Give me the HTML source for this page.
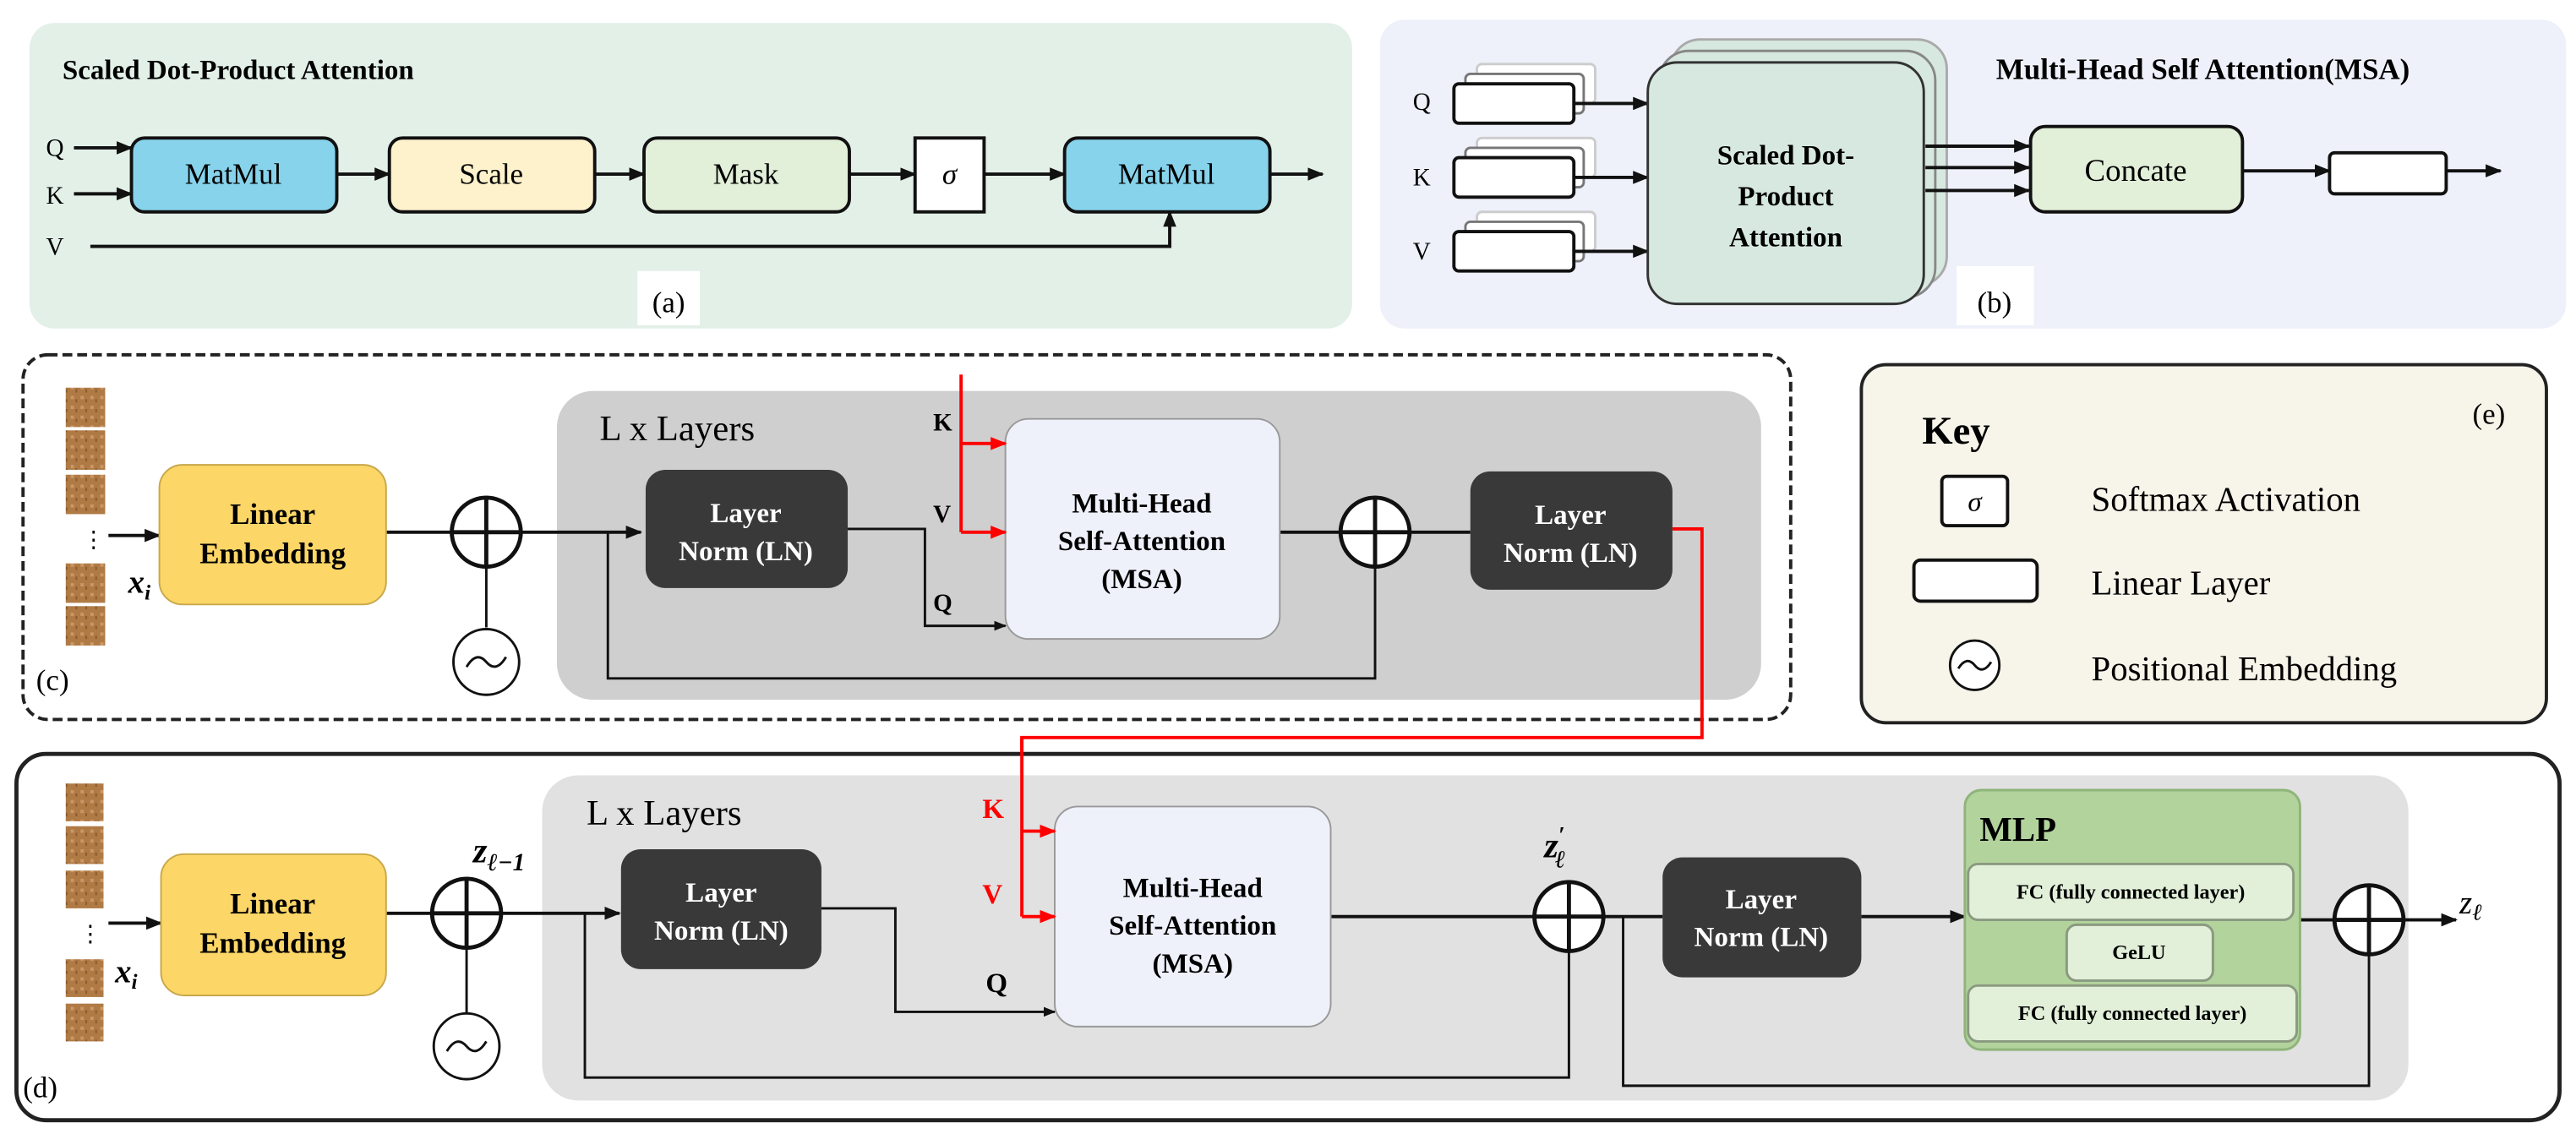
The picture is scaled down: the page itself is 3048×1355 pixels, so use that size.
<!DOCTYPE html>
<html><head><meta charset="utf-8"><style>
html,body{margin:0;padding:0;background:#fff;}
svg, svg text{font-family:"Liberation Serif",serif;}
</style></head><body>
<svg width="3048" height="1350" viewBox="0 0 1568 694.5" xmlns="http://www.w3.org/2000/svg" font-family="Liberation Serif, serif">
<defs>
<marker id="a" viewBox="0 0 10 10" refX="9" refY="5" markerWidth="5" markerHeight="5" orient="auto"><path d="M0,1 L10,5 L0,9 z" fill="#111"/></marker>
<marker id="r" viewBox="0 0 10 10" refX="9" refY="5" markerWidth="5" markerHeight="5" orient="auto"><path d="M0,1 L10,5 L0,9 z" fill="#f00"/></marker>
<pattern id="tex" width="6" height="6" patternUnits="userSpaceOnUse"><rect width="6" height="6" fill="#b07a45"/><rect x="1" y="1" width="2" height="2" fill="#c99866"/><rect x="4" y="3" width="1" height="2" fill="#8a5a2e"/></pattern>
</defs>
<g font-family="Liberation Serif, serif">
<!-- (a) -->
<rect x="18" y="14" width="805" height="186" rx="15" fill="#e2f0e8"/>
<text x="38" y="48" font-size="17" font-weight="bold">Scaled Dot-Product Attention</text>
<g font-size="15">
<text x="28" y="95">Q</text><text x="28" y="124">K</text><text x="28" y="155">V</text>
</g>
<g stroke="#111" stroke-width="2" fill="none">
<line x1="45" y1="90" x2="80" y2="90" marker-end="url(#a)"/>
<line x1="45" y1="118" x2="80" y2="118" marker-end="url(#a)"/>
<line x1="205" y1="106" x2="237" y2="106" marker-end="url(#a)"/>
<line x1="362" y1="106" x2="392" y2="106" marker-end="url(#a)"/>
<line x1="517" y1="106" x2="557" y2="106" marker-end="url(#a)"/>
<line x1="599" y1="106" x2="648" y2="106" marker-end="url(#a)"/>
<line x1="773" y1="106" x2="805" y2="106" marker-end="url(#a)"/>
<polyline points="55,150 712,150 712,129" marker-end="url(#a)"/>
</g>
<g stroke="#111" stroke-width="2">
<rect x="80" y="84" width="125" height="45" rx="8" fill="#87d3ec"/>
<rect x="237" y="84" width="125" height="45" rx="8" fill="#fef2cd"/>
<rect x="392" y="84" width="125" height="45" rx="8" fill="#e2efd9"/>
<rect x="557" y="84" width="42" height="45" fill="#fff"/>
<rect x="648" y="84" width="125" height="45" rx="8" fill="#87d3ec"/>
</g>
<g font-size="18" text-anchor="middle">
<text x="142" y="112">MatMul</text><text x="299" y="112">Scale</text><text x="454" y="112">Mask</text>
<text x="578" y="112" font-style="italic">σ</text><text x="710" y="112">MatMul</text>
</g>
<rect x="388" y="165" width="38" height="33" fill="#fff"/>
<text x="407" y="190" font-size="18" text-anchor="middle">(a)</text>

<!-- (b) -->
<rect x="840" y="12" width="722" height="188" rx="15" fill="#eef1fa"/>
<text x="1215" y="48" font-size="18" font-weight="bold">Multi-Head Self Attention(MSA)</text>
<g font-size="15"><text x="860" y="67">Q</text><text x="860" y="113">K</text><text x="860" y="158">V</text></g>
<g stroke="#555" stroke-width="1.5" fill="#fff">
<rect x="899" y="39" width="72" height="24" rx="3" stroke="#ccc"/><rect x="892" y="45" width="72" height="24" rx="3" stroke="#777"/>
<rect x="899" y="84" width="72" height="24" rx="3" stroke="#ccc"/><rect x="892" y="90" width="72" height="24" rx="3" stroke="#777"/>
<rect x="899" y="129" width="72" height="24" rx="3" stroke="#ccc"/><rect x="892" y="135" width="72" height="24" rx="3" stroke="#777"/>
</g>
<g stroke="#111" stroke-width="2" fill="#fff">
<rect x="885" y="51" width="73" height="24" rx="3"/>
<rect x="885" y="96" width="73" height="24" rx="3"/>
<rect x="885" y="141" width="73" height="24" rx="3"/>
</g>
<g stroke="#111" stroke-width="2" fill="none">
<line x1="958" y1="63" x2="1003" y2="63" marker-end="url(#a)"/>
<line x1="958" y1="108" x2="1003" y2="108" marker-end="url(#a)"/>
<line x1="958" y1="153" x2="1003" y2="153" marker-end="url(#a)"/>
</g>
<rect x="1017" y="24" width="168" height="150" rx="18" fill="#d7e8e1" stroke="#aaa" stroke-width="1.5"/>
<rect x="1010" y="31" width="168" height="150" rx="18" fill="#d7e8e1" stroke="#888" stroke-width="1.5"/>
<rect x="1003" y="38" width="168" height="147" rx="18" fill="#d7e8e1" stroke="#333" stroke-width="1.5"/>
<g font-size="17" font-weight="bold" text-anchor="middle">
<text x="1087" y="100">Scaled Dot-</text><text x="1087" y="125">Product</text><text x="1087" y="150">Attention</text>
</g>
<g stroke="#111" stroke-width="2" fill="none">
<line x1="1172" y1="89" x2="1235" y2="89" marker-end="url(#a)"/>
<line x1="1172" y1="102" x2="1235" y2="102" marker-end="url(#a)"/>
<line x1="1172" y1="116" x2="1235" y2="116" marker-end="url(#a)"/>
<line x1="1365" y1="104" x2="1418" y2="104" marker-end="url(#a)"/>
<line x1="1489" y1="104" x2="1522" y2="104" marker-end="url(#a)"/>
</g>
<rect x="1236" y="77" width="129" height="52" rx="9" fill="#e2efd9" stroke="#111" stroke-width="2"/>
<text x="1300" y="110" font-size="19" text-anchor="middle">Concate</text>
<rect x="1418" y="93" width="71" height="25" rx="3" fill="#fff" stroke="#111" stroke-width="2"/>
<rect x="1191" y="162" width="47" height="36" fill="#fff"/>
<text x="1214" y="190" font-size="18" text-anchor="middle">(b)</text>

<!-- (c) -->
<rect x="14" y="216" width="1076" height="222" rx="15" fill="#fff" stroke="#222" stroke-width="2" stroke-dasharray="6,3"/>
<rect x="339" y="238" width="733" height="188" rx="22" fill="#cfcfcf"/>
<text x="365" y="268" font-size="22">L x Layers</text>
<g fill="url(#tex)">
<rect x="40" y="236" width="24" height="24"/><rect x="40" y="262" width="24" height="24"/><rect x="40" y="289" width="24" height="24"/>
<rect x="40" y="343" width="24" height="24"/><rect x="40" y="369" width="24" height="24"/>
</g>
<text x="50" y="333" font-size="14">⋮</text>
<text x="78" y="361" font-size="20" font-style="italic" font-weight="bold">x<tspan font-size="13" dy="4">i</tspan></text>
<g stroke="#111" stroke-width="2" fill="none">
<line x1="66" y1="326" x2="97" y2="326" marker-end="url(#a)"/>
<line x1="235" y1="324" x2="390" y2="324" marker-end="url(#a)"/>
<line x1="296" y1="382" x2="296" y2="346" stroke-width="1.5"/>
<polyline points="370,324 370,413 837,413 837,346" stroke-width="1.5"/>
<polyline points="516,322 563,322 563,381 612,381" stroke-width="1.5" marker-end="url(#a)"/>
<line x1="779" y1="324" x2="895" y2="324"/>
</g>
<rect x="97" y="283" width="138" height="85" rx="14" fill="#fcd667" stroke="#c8a84a" stroke-width="1"/>
<g font-size="18" font-weight="bold" text-anchor="middle"><text x="166" y="319">Linear</text><text x="166" y="343">Embedding</text></g>
<circle cx="296" cy="324" r="21" fill="#fff" stroke="#111" stroke-width="2.5"/>
<path d="M275,324 H317 M296,303 V345" stroke="#111" stroke-width="2.5"/>
<circle cx="296" cy="403" r="20" fill="#fff" stroke="#111" stroke-width="1.5"/>
<path d="M284,406 q6,-10 12,-3 q6,7 12,-3" stroke="#111" stroke-width="1.5" fill="none"/>
<rect x="393" y="286" width="123" height="72" rx="12" fill="#3a3939"/>
<g font-size="17" font-weight="bold" text-anchor="middle" fill="#fff"><text x="454" y="318">Layer</text><text x="454" y="341">Norm (LN)</text></g>
<rect x="612" y="255" width="167" height="134" rx="14" fill="#eef1fa" stroke="#999" stroke-width="1"/>
<g font-size="17" font-weight="bold" text-anchor="middle"><text x="695" y="312">Multi-Head</text><text x="695" y="335">Self-Attention</text><text x="695" y="358">(MSA)</text></g>
<circle cx="837" cy="324" r="21" fill="#fff" stroke="#111" stroke-width="2.5"/>
<path d="M816,324 H858 M837,303 V345" stroke="#111" stroke-width="2.5"/>
<rect x="895" y="287" width="123" height="72" rx="12" fill="#3a3939"/>
<g font-size="17" font-weight="bold" text-anchor="middle" fill="#fff"><text x="956" y="319">Layer</text><text x="956" y="342">Norm (LN)</text></g>
<g font-size="15" font-weight="bold"><text x="568" y="262">K</text><text x="568" y="318">V</text><text x="568" y="372">Q</text></g>
<g stroke="#f00" stroke-width="2" fill="none">
<line x1="585" y1="228" x2="585" y2="324"/>
<line x1="585" y1="270" x2="612" y2="270" marker-end="url(#r)"/>
<line x1="585" y1="324" x2="612" y2="324" marker-end="url(#r)"/>
<polyline points="1018,322 1036,322 1036,449 622,449 622,460"/>
</g>
<text x="22" y="420" font-size="18">(c)</text>

<!-- (e) -->
<rect x="1133" y="222" width="417" height="218" rx="15" fill="#f7f4ea" stroke="#222" stroke-width="2"/>
<text x="1170" y="270" font-size="24" font-weight="bold">Key</text>
<text x="1505" y="258" font-size="18">(e)</text>
<rect x="1182" y="290" width="40" height="30" rx="3" fill="#fff" stroke="#111" stroke-width="2"/>
<text x="1202" y="311" font-size="17" font-style="italic" text-anchor="middle">σ</text>
<rect x="1165" y="341" width="75" height="25" rx="4" fill="#fff" stroke="#111" stroke-width="2"/>
<circle cx="1202" cy="405" r="15" fill="#fff" stroke="#111" stroke-width="1.5"/>
<path d="M1192,407 q5,-8 10,-2 q5,6 10,-2" stroke="#111" stroke-width="1.5" fill="none"/>
<g font-size="21"><text x="1273" y="311">Softmax Activation</text><text x="1273" y="362">Linear Layer</text><text x="1273" y="414">Positional Embedding</text></g>

<!-- (d) -->
<rect x="10" y="459" width="1548" height="223" rx="18" fill="#fff" stroke="#222" stroke-width="2.5"/>
<rect x="330" y="472" width="1136" height="198" rx="22" fill="#e1e1e1"/>
<text x="357" y="502" font-size="22">L x Layers</text>
<g fill="url(#tex)">
<rect x="40" y="477" width="23" height="23"/><rect x="40" y="503" width="23" height="23"/><rect x="40" y="530" width="23" height="23"/>
<rect x="40" y="584" width="23" height="23"/><rect x="40" y="611" width="23" height="23"/>
</g>
<text x="48" y="573" font-size="14">⋮</text>
<text x="70" y="598" font-size="20" font-style="italic" font-weight="bold">x<tspan font-size="13" dy="4">i</tspan></text>
<g stroke="#111" stroke-width="2" fill="none">
<line x1="66" y1="562" x2="98" y2="562" marker-end="url(#a)"/>
<line x1="235" y1="556" x2="377" y2="556" marker-end="url(#a)"/>
<line x1="284" y1="617" x2="284" y2="578" stroke-width="1.5"/>
<polyline points="356,556 356,656 955,656 955,580" stroke-width="1.5"/>
<polyline points="500,553 545,553 545,616 642,616" stroke-width="1.5" marker-end="url(#a)"/>
<line x1="810" y1="558" x2="1012" y2="558"/>
<polyline points="988,558 988,661 1442,661 1442,582" stroke-width="1.5"/>
<line x1="1133" y1="558" x2="1196" y2="558" marker-end="url(#a)"/>
<line x1="1400" y1="560" x2="1495" y2="560" marker-end="url(#a)"/>
</g>
<rect x="98" y="520" width="137" height="86" rx="14" fill="#fcd667" stroke="#c8a84a" stroke-width="1"/>
<g font-size="18" font-weight="bold" text-anchor="middle"><text x="166" y="556">Linear</text><text x="166" y="580">Embedding</text></g>
<circle cx="284" cy="556" r="21" fill="#fff" stroke="#111" stroke-width="2.5"/>
<path d="M263,556 H305 M284,535 V577" stroke="#111" stroke-width="2.5"/>
<circle cx="284" cy="637" r="20" fill="#fff" stroke="#111" stroke-width="1.5"/>
<path d="M272,640 q6,-10 12,-3 q6,7 12,-3" stroke="#111" stroke-width="1.5" fill="none"/>
<text x="288" y="525" font-size="22" font-weight="bold" font-style="italic">z<tspan font-size="15" dy="5">ℓ−1</tspan></text>
<rect x="378" y="517" width="122" height="73" rx="12" fill="#3a3939"/>
<g font-size="17" font-weight="bold" text-anchor="middle" fill="#fff"><text x="439" y="549">Layer</text><text x="439" y="572">Norm (LN)</text></g>
<rect x="642" y="491" width="168" height="134" rx="14" fill="#eef1fa" stroke="#999" stroke-width="1"/>
<g font-size="17" font-weight="bold" text-anchor="middle"><text x="726" y="546">Multi-Head</text><text x="726" y="569">Self-Attention</text><text x="726" y="592">(MSA)</text></g>
<g font-size="17" font-weight="bold"><text x="598" y="498" fill="#f00">K</text><text x="598" y="550" fill="#f00">V</text><text x="600" y="604">Q</text></g>
<g stroke="#f00" stroke-width="2" fill="none">
<line x1="622" y1="449" x2="622" y2="558"/>
<line x1="622" y1="506" x2="642" y2="506" marker-end="url(#r)"/>
<line x1="622" y1="558" x2="642" y2="558" marker-end="url(#r)"/>
</g>
<circle cx="955" cy="558" r="21" fill="#fff" stroke="#111" stroke-width="2.5"/>
<path d="M934,558 H976 M955,537 V579" stroke="#111" stroke-width="2.5"/>
<text x="940" y="522" font-size="22" font-weight="bold" font-style="italic">z<tspan font-size="14" dy="-9">′</tspan><tspan font-size="15" dx="-6" dy="15">ℓ</tspan></text>
<rect x="1012" y="522" width="121" height="73" rx="12" fill="#3a3939"/>
<g font-size="17" font-weight="bold" text-anchor="middle" fill="#fff"><text x="1072" y="553">Layer</text><text x="1072" y="576">Norm (LN)</text></g>
<rect x="1196" y="481" width="204" height="158" rx="10" fill="#b3d39d" stroke="#8fb57a" stroke-width="1.5"/>
<text x="1205" y="512" font-size="21" font-weight="bold">MLP</text>
<g stroke="#8a9a80" stroke-width="1.5" fill="#e2efd9">
<rect x="1198" y="526" width="198" height="34" rx="6"/>
<rect x="1258" y="563" width="89" height="34" rx="6"/>
<rect x="1198" y="600" width="200" height="34" rx="6"/>
</g>
<g font-size="12.5" font-weight="bold" text-anchor="middle">
<text x="1297" y="547">FC (fully connected layer)</text><text x="1302" y="584">GeLU</text><text x="1298" y="621">FC (fully connected layer)</text>
</g>
<circle cx="1442" cy="560" r="21" fill="#fff" stroke="#111" stroke-width="2.5"/>
<path d="M1421,560 H1463 M1442,539 V581" stroke="#111" stroke-width="2.5"/>
<text x="1497" y="556" font-size="20" font-style="italic">z<tspan font-size="14" dy="4">ℓ</tspan></text>
<text x="14" y="668" font-size="18">(d)</text>
</g>
</svg>
</body></html>
